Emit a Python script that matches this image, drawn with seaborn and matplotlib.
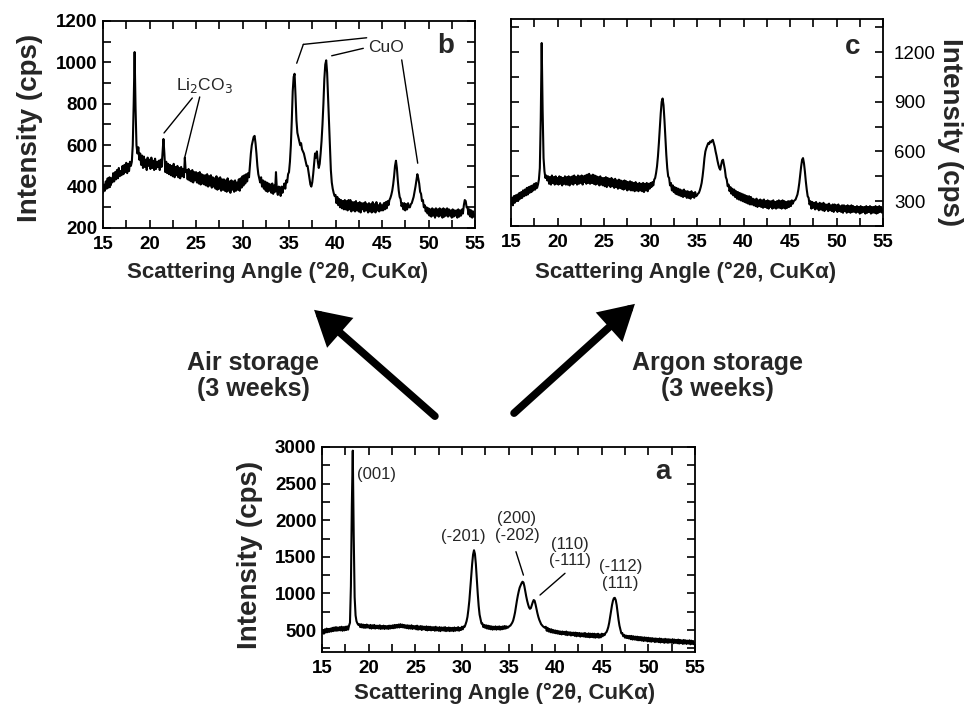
import numpy as np
import pandas as pd
import matplotlib
matplotlib.use("Agg")
import matplotlib.pyplot as plt
from matplotlib.ticker import MultipleLocator
from matplotlib.patches import FancyArrowPatch
import seaborn as sns

# ---------------- data (0.1 deg steps, 15-55 deg) ----------------
angle = np.round(np.arange(150, 551) / 10.0, 1)

# panel b : air storage (3 weeks)
air_cps = [
    370, 410, 380, 425, 390, 440, 395, 445, 405, 440,
    420, 465, 425, 470, 435, 480, 440, 490, 450, 475,
    455, 500, 460, 505, 470, 515, 465, 510, 475, 520,
    500, 520, 600, 800, 1050, 780, 600, 560, 590, 530,
    560, 505, 550, 490, 545, 495, 530, 480, 540, 500,
    530, 485, 540, 490, 525, 480, 535, 485, 520, 495,
    525, 480, 530, 495, 560, 630, 560, 470, 520, 465,
    510, 460, 505, 455, 500, 450, 510, 445, 495, 455,
    500, 445, 490, 440, 495, 450, 485, 445, 540, 470,
    480, 435, 485, 430, 475, 425, 480, 420, 470, 430,
    470, 420, 465, 415, 470, 410, 460, 415, 455, 410,
    455, 405, 460, 400, 450, 405, 455, 395, 445, 400,
    440, 390, 450, 385, 440, 390, 445, 380, 435, 385,
    435, 380, 430, 375, 440, 380, 425, 370, 430, 385,
    425, 375, 430, 380, 420, 385, 435, 380, 440, 395,
    450, 405, 455, 415, 460, 425, 465, 445, 500, 560,
    600, 620, 640, 645, 610, 560, 500, 460, 440, 420,
    445, 400, 430, 390, 425, 380, 420, 375, 415, 380,
    410, 370, 415, 365, 405, 375, 470, 380, 360, 400,
    395, 355, 400, 370, 395, 415, 390, 430, 420, 460,
    470, 520, 600, 720, 860, 930, 945, 840, 720, 660,
    640, 620, 600, 610, 580, 570, 560, 540, 520, 500,
    500, 470, 440, 410, 400, 420, 460, 510, 560, 540,
    570, 520, 490, 510, 560, 620, 700, 800, 920, 990,
    1010, 950, 830, 700, 580, 480, 420, 390, 370, 355,
    360, 320, 350, 310, 340, 300, 335, 295, 330, 290,
    335, 290, 330, 285, 335, 290, 335, 280, 325, 285,
    325, 280, 330, 285, 320, 280, 325, 275, 320, 290,
    320, 280, 325, 285, 315, 275, 320, 280, 315, 275,
    325, 280, 315, 275, 325, 285, 310, 280, 320, 285,
    310, 285, 320, 290, 325, 295, 330, 310, 335, 345,
    360, 380, 410, 450, 500, 525, 490, 430, 380, 350,
    340, 305, 320, 290, 320, 285, 315, 290, 320, 300,
    300, 315, 320, 335, 350, 375, 400, 430, 460, 440,
    415, 375, 365, 330, 335, 300, 310, 280, 300, 270,
    295, 260, 290, 255, 295, 260, 290, 250, 295, 260,
    290, 255, 295, 260, 290, 250, 295, 255, 290, 260,
    295, 255, 290, 260, 285, 250, 290, 255, 285, 260,
    285, 250, 290, 255, 285, 260, 290, 270, 310, 335,
    330, 300, 300, 265, 290, 255, 285, 250, 280, 255,
    265,
]

# panel c : argon storage (3 weeks)
argon_cps = [
    280, 320, 275, 330, 290, 335, 300, 340, 305, 350,
    315, 355, 320, 365, 330, 370, 335, 380, 340, 385,
    350, 390, 355, 395, 365, 405, 370, 410, 380, 400,
    430, 500, 800, 1255, 850, 560, 480, 440, 455, 425,
    450, 405, 445, 400, 455, 410, 445, 400, 450, 405,
    440, 400, 450, 405, 445, 395, 440, 405, 450, 400,
    445, 400, 450, 395, 445, 405, 450, 400, 455, 410,
    445, 400, 455, 405, 450, 410, 455, 400, 450, 415,
    455, 405, 460, 410, 465, 405, 455, 410, 460, 405,
    455, 400, 450, 405, 445, 395, 450, 400, 440, 395,
    440, 390, 445, 385, 440, 395, 435, 385, 440, 390,
    430, 380, 435, 385, 425, 375, 430, 380, 425, 375,
    420, 370, 425, 375, 420, 365, 415, 370, 420, 365,
    415, 365, 410, 360, 415, 365, 405, 360, 410, 365,
    405, 360, 410, 355, 405, 365, 410, 360, 405, 375,
    410, 385, 415, 395, 430, 440, 470, 510, 570, 650,
    740, 830, 900, 920, 880, 790, 680, 580, 500, 450,
    440, 395, 410, 365, 395, 355, 385, 345, 380, 340,
    375, 335, 370, 330, 365, 325, 370, 330, 360, 320,
    360, 320, 355, 315, 360, 325, 350, 320, 355, 330,
    335, 345, 350, 365, 385, 410, 450, 500, 560, 600,
    620, 635, 650, 645, 660, 655, 665, 670, 650, 630,
    600, 575, 545, 520, 500, 490, 520, 545, 550, 520,
    490, 445, 430, 390, 400, 360, 385, 345, 375, 335,
    370, 325, 360, 315, 355, 310, 350, 305, 345, 300,
    340, 295, 335, 290, 330, 285, 330, 280, 325, 280,
    315, 275, 310, 270, 315, 265, 305, 270, 310, 265,
    305, 260, 310, 265, 300, 260, 305, 255, 300, 265,
    300, 255, 305, 260, 295, 255, 300, 260, 305, 260,
    300, 255, 305, 260, 300, 255, 295, 260, 300, 265,
    300, 270, 305, 285, 300, 305, 310, 325, 340, 370,
    410, 460, 510, 550, 560, 530, 480, 420, 370, 330,
    320, 280, 300, 255, 295, 260, 290, 250, 295, 255,
    285, 245, 290, 250, 285, 245, 290, 240, 280, 250,
    280, 240, 285, 245, 275, 240, 280, 235, 280, 245,
    275, 235, 280, 240, 270, 235, 275, 230, 275, 240,
    270, 230, 275, 235, 270, 230, 275, 235, 270, 235,
    265, 230, 270, 235, 265, 225, 270, 230, 265, 235,
    265, 225, 270, 230, 265, 235, 270, 225, 265, 230,
    265, 230, 270, 225, 265, 230, 270, 235, 265, 230,
    250,
]

# panel a : as prepared
fresh_cps = [
    455, 500, 450, 510, 465, 520, 470, 515, 475, 520,
    480, 530, 485, 535, 490, 540, 490, 535, 495, 540,
    495, 545, 490, 540, 495, 545, 500, 550, 505, 560,
    600, 1100, 2200, 2950, 1800, 950, 700, 620, 590, 570,
    580, 540, 580, 535, 575, 530, 570, 530, 575, 535,
    565, 525, 570, 520, 565, 525, 570, 520, 560, 525,
    560, 520, 565, 515, 555, 520, 560, 515, 555, 520,
    555, 515, 560, 520, 560, 525, 565, 525, 570, 530,
    570, 535, 575, 535, 580, 540, 575, 535, 570, 530,
    565, 525, 565, 520, 560, 520, 565, 515, 555, 520,
    555, 510, 560, 505, 550, 510, 555, 500, 550, 510,
    545, 500, 550, 495, 545, 500, 545, 495, 540, 500,
    540, 490, 545, 495, 535, 490, 540, 485, 535, 495,
    535, 490, 540, 485, 530, 490, 535, 485, 530, 490,
    530, 485, 535, 490, 530, 495, 540, 490, 530, 500,
    545, 510, 550, 545, 580, 620, 680, 780, 900, 1060,
    1230, 1400, 1530, 1590, 1540, 1400, 1200, 1000, 830, 710,
    650, 590, 590, 540, 570, 530, 565, 520, 560, 515,
    555, 510, 550, 505, 545, 510, 550, 505, 545, 510,
    550, 505, 545, 510, 550, 515, 555, 520, 550, 530,
    540, 555, 560, 580, 600, 630, 680, 740, 820, 900,
    970, 1030, 1080, 1110, 1140, 1160, 1150, 1100, 1030, 960,
    900, 850, 810, 790, 800, 840, 880, 910, 900, 850,
    790, 730, 680, 640, 610, 580, 565, 550, 540, 530,
    545, 490, 530, 480, 515, 470, 510, 465, 500, 460,
    495, 455, 490, 450, 485, 445, 480, 440, 480, 445,
    475, 435, 480, 430, 470, 435, 470, 425, 465, 430,
    465, 420, 465, 415, 460, 420, 460, 410, 455, 415,
    455, 410, 460, 405, 450, 405, 455, 400, 450, 405,
    450, 400, 450, 395, 445, 400, 450, 395, 440, 400,
    450, 415, 445, 430, 460, 470, 500, 540, 600, 680,
    760, 840, 900, 935, 940, 910, 840, 740, 640, 560,
    510, 455, 460, 415, 435, 395, 425, 390, 420, 385,
    420, 375, 420, 370, 415, 370, 410, 365, 410, 360,
    405, 360, 405, 355, 400, 350, 400, 355, 395, 345,
    395, 345, 390, 340, 390, 345, 385, 335, 385, 340,
    380, 335, 385, 330, 380, 335, 375, 325, 380, 330,
    375, 325, 375, 330, 370, 325, 375, 320, 370, 325,
    365, 320, 370, 315, 365, 320, 360, 310, 365, 315,
    360, 310, 355, 315, 360, 305, 355, 310, 350, 305,
    315,
]

x_ticks = [15, 20, 25, 30, 35, 40, 45, 50, 55]
air_yticks = [200, 400, 600, 800, 1000, 1200]
argon_yticks = [300, 600, 900, 1200]
fresh_yticks = [500, 1000, 1500, 2000, 2500, 3000]

xlabel = "Scattering Angle (°2θ, CuKα)"
ylabel = "Intensity (cps)"

# ---------------- style ----------------
sns.set_theme(style="ticks")
plt.rcParams["font.family"] = ["Liberation Sans", "DejaVu Sans"]
plt.rcParams["axes.linewidth"] = 1.3

fig = plt.figure(figsize=(9.64, 7.06), dpi=100)
W, H = 964.0, 706.0


def make_axes(l, r, t, b):
    return fig.add_axes([l / W, 1 - b / H, (r - l) / W, (b - t) / H])


ax_b = make_axes(103, 475, 21, 228)
ax_c = make_axes(511, 883, 19, 226)
ax_a = make_axes(322, 695, 447, 652)

panels = [
    (ax_b, air_cps, (200, 1200), air_yticks, 100),
    (ax_c, argon_cps, (150, 1400), argon_yticks, 150),
    (ax_a, fresh_cps, (200, 3000), fresh_yticks, 250),
]

for ax, vals, ylim, yt, ymin in panels:
    df = pd.DataFrame({"angle": angle, "cps": vals})
    sns.lineplot(data=df, x="angle", y="cps", ax=ax, color="black",
                 linewidth=1.5, estimator=None)
    ax.set_xlim(15, 55)
    ax.set_ylim(*ylim)
    ax.set_xticks(x_ticks)
    ax.set_yticks(yt)
    ax.xaxis.set_minor_locator(MultipleLocator(2.5))
    ax.yaxis.set_minor_locator(MultipleLocator(ymin))
    ax.tick_params(which="both", direction="in", top=True, right=True,
                   left=True, bottom=True, width=1.2, colors="black")
    ax.tick_params(which="major", length=6)
    ax.tick_params(which="minor", length=6)
    ax.tick_params(axis="x", pad=6, labelsize=13.5)
    ax.tick_params(axis="y", pad=4, labelsize=13.5)
    for lab in ax.get_xticklabels() + ax.get_yticklabels():
        lab.set_fontweight("bold")
    for sp in ax.spines.values():
        sp.set_color("black")
        sp.set_linewidth(1.3)
    ax.set_xlabel(xlabel, fontsize=16, fontweight="bold")
    ax.set_ylabel(ylabel, fontsize=20, fontweight="bold")
    ax.xaxis.label.set_va("center")
    ax.yaxis.label.set_va("center")

# right-hand y axis for panel c
ax_c.yaxis.set_label_position("right")
ax_c.tick_params(axis="y", which="both", labelleft=False, labelright=True, pad=8)
ax_c.yaxis.label.set_rotation(-90)
ax_c.yaxis.label.set_va("center")

# label positions (axes fraction)
ax_b.xaxis.set_label_coords(0.468, -0.213)
ax_b.yaxis.set_label_coords(-0.196, 0.483)
ax_c.xaxis.set_label_coords(0.47, -0.222)
ax_c.yaxis.set_label_coords(1.18, 0.455)
ax_a.xaxis.set_label_coords(0.49, -0.2)
ax_a.yaxis.set_label_coords(-0.193, 0.473)

# panel letters
ax_b.text(0.922, 0.879, "b", transform=ax_b.transAxes, ha="center", va="center",
          fontsize=20, fontweight="bold")
ax_c.text(0.919, 0.865, "c", transform=ax_c.transAxes, ha="center", va="center",
          fontsize=20, fontweight="bold")
ax_a.text(0.914, 0.878, "a", transform=ax_a.transAxes, ha="center", va="center",
          fontsize=20, fontweight="bold")

# ---------------- annotations ----------------
seg = dict(arrowstyle="-", color="black", lw=1.0, shrinkA=0, shrinkB=0)

# panel b
ax_b.text(25.9, 886, "Li$_2$CO$_3$", ha="center", va="center", fontsize=12.5)
ax_b.annotate("", xy=(21.56, 659), xytext=(24.6, 828), arrowprops=seg)
ax_b.annotate("", xy=(23.8, 543), xytext=(25.4, 833), arrowprops=seg)
ax_b.text(45.4, 1074, "CuO", ha="center", va="center", fontsize=12.5)
ax_b.annotate("", xy=(36.54, 1087), xytext=(43.35, 1119), arrowprops=seg)
ax_b.annotate("", xy=(35.83, 996), xytext=(36.54, 1087), arrowprops=seg)
ax_b.annotate("", xy=(39.59, 1032), xytext=(42.99, 1068), arrowprops=seg)
ax_b.annotate("", xy=(48.84, 513), xytext=(47.12, 1012), arrowprops=seg)

# panel a
ax_a.text(18.7, 2630, "(001)", ha="left", va="center", fontsize=12)
ax_a.text(30.2, 1784, "(-201)", ha="center", va="center", fontsize=12)
ax_a.text(35.9, 1907, "(200)\n(-202)", ha="center", va="center", fontsize=12,
          linespacing=1.1)
ax_a.annotate("", xy=(36.6, 1250), xytext=(35.8, 1570), arrowprops=seg)
ax_a.text(41.6, 1559, "(110)\n(-111)", ha="center", va="center", fontsize=12,
          linespacing=1.1)
ax_a.annotate("", xy=(38.38, 978), xytext=(41.06, 1275), arrowprops=seg)
ax_a.text(47.0, 1251, "(-112)\n(111)", ha="center", va="center", fontsize=12,
          linespacing=1.1)

# ---------------- arrows and storage texts ----------------
for tail, tip in [((437, 418), (312, 308)), ((512, 415), (637, 302))]:
    arr = FancyArrowPatch((tail[0] / W, 1 - tail[1] / H), (tip[0] / W, 1 - tip[1] / H),
                          transform=fig.transFigure,
                          arrowstyle="-|>,head_length=0.7,head_width=0.4",
                          mutation_scale=24, lw=5.5, color="black",
                          capstyle="round", joinstyle="miter")
    fig.add_artist(arr)

fig.text(253 / W, 1 - 376 / H, "Air storage\n(3 weeks)", ha="center", va="center",
         fontsize=18, fontweight="bold", linespacing=1.1)
fig.text(717 / W, 1 - 376 / H, "Argon storage\n(3 weeks)", ha="center", va="center",
         fontsize=18, fontweight="bold", linespacing=1.1)

fig.savefig("out.png", dpi=100)
